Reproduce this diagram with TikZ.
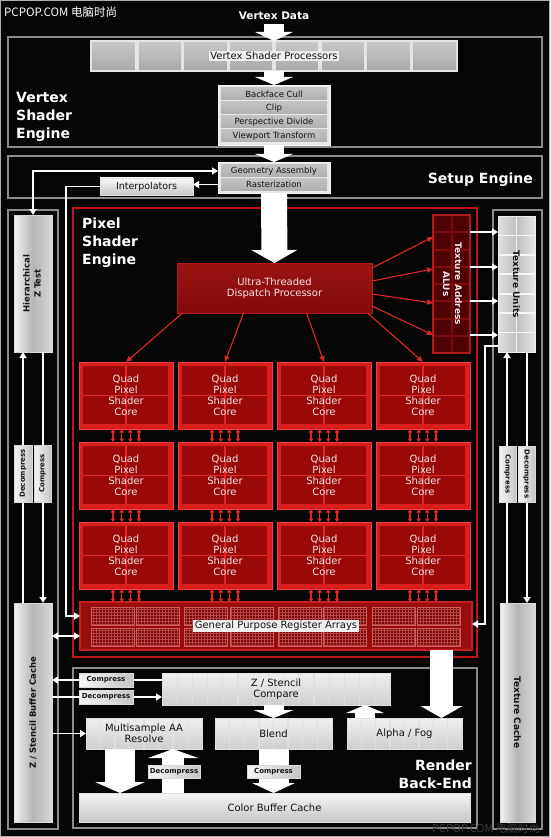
\documentclass[tikz,border=0pt]{standalone}
\usepackage{fontspec}
\setmainfont{DejaVu Sans}
\newfontfamily\cjk{Noto Sans CJK SC}
\usetikzlibrary{arrows.meta,calc,patterns}
\definecolor{bg}{HTML}{060606}
\definecolor{frame}{HTML}{8C8C8C}
\definecolor{pred}{HTML}{C21616}
\definecolor{corered}{HTML}{DA1E1E}
\definecolor{corehi}{HTML}{F04040}
\definecolor{coredark}{HTML}{9A0808}
\definecolor{coreline}{HTML}{DC2A2A}
\definecolor{coretext}{HTML}{F4E6E6}
\definecolor{disphi}{HTML}{9C1414}
\definecolor{displo}{HTML}{820A0A}
\definecolor{alucell}{HTML}{4E0202}
\definecolor{aluline}{HTML}{7E0A0A}
\definecolor{aluedge}{HTML}{B01A1A}
\definecolor{arrred}{HTML}{E02626}
\definecolor{gprfill}{HTML}{980C0C}
\definecolor{gprcell}{HTML}{7A0606}
\definecolor{gprline}{HTML}{D06060}
\definecolor{ink}{HTML}{141414}
\definecolor{wmgray}{HTML}{3A3A3A}
\newcommand\fsz[2]{\fontsize{#1pt}{#2pt}\selectfont}
\newcommand\pxbox[7]{\node[inner sep=0pt,outer sep=0pt,#6,anchor=north west,minimum width={(#4)-(#2)},minimum height={(#5)-(#3)}] (#1) at (#2,#3) {#7};}
\tikzset{
  secframe/.style={draw=frame,line width=1.1pt},
  pseframe/.style={draw=pred,line width=1.6pt},
  head/.style={text=white,font=\bfseries\fsz{14}{18},inner sep=0pt},
  cells/.style n args={3}{path picture={%
    \ifnum#1>0
    \foreach \i [evaluate=\i as \f using \i/(#1+1)] in {1,...,#1}{%
      \draw[#3] ($(path picture bounding box.north west)!\f!(path picture bounding box.north east)$) -- ($(path picture bounding box.south west)!\f!(path picture bounding box.south east)$);}%
    \fi
    \ifnum#2>0
    \foreach \j [evaluate=\j as \g using \j/(#2+1)] in {1,...,#2}{%
      \draw[#3] ($(path picture bounding box.north west)!\g!(path picture bounding box.south west)$) -- ($(path picture bounding box.north east)!\g!(path picture bounding box.south east)$);}%
    \fi}},
  vspbar/.style={top color=gray!42,bottom color=gray!68,draw=gray!20,line width=2.5pt,cells={7}{0}{gray!20,line width=3.5pt}},
  lbl/.style={fill=gray!12,text=ink,font=\fsz{10}{12},inner sep=1.5pt},
  stackframe/.style={fill=gray!18,draw=gray!8,line width=0.8pt},
  rowbox/.style={top color=gray!48,bottom color=gray!62,text=ink,font=\fsz{8.5}{10}},
  lightbox/.style={top color=gray!5,bottom color=gray!45,draw=gray!25,line width=0.6pt,text=ink,font=\fsz{9.5}{11}},
  colbox/.style={left color=gray!10,right color=gray!30,middle color=gray!58,draw=gray!30,line width=0.6pt,text=ink,font=\bfseries\fsz{8.5}{11}},
  tubox/.style={left color=gray!25,right color=gray!20,middle color=gray!50,draw=gray!15,line width=0.8pt,cells={1}{6}{gray!8,line width=1.6pt},text=ink,font=\bfseries\fsz{9}{11}},
  alubox/.style={fill=alucell,draw=aluedge,line width=1.2pt,cells={1}{7}{aluline,line width=2pt},text=coretext,font=\bfseries\fsz{9}{12}},
  dispbox/.style={top color=disphi,bottom color=displo,draw={rgb,255:red,176;green,28;blue,28},line width=0.8pt,text=coretext,align=center,font=\fsz{10}{11.5}},
  core/.style={fill=corered,draw=corehi,line width=0.6pt,text=coretext,align=center,font=\fsz{10}{11},
    path picture={%
      \fill[coredark] ([shift={(4pt,-4pt)}]path picture bounding box.north west) rectangle ([shift={(-5pt,5pt)}]path picture bounding box.south east);
      \draw[coreline,line width=1.4pt] ([yshift=-4pt]path picture bounding box.north) -- ([yshift=5pt]path picture bounding box.south);
      \draw[coreline,line width=1.4pt] ([xshift=4pt]path picture bounding box.west) -- ([xshift=-5pt]path picture bounding box.east);}},
  gprbox/.style={fill=gprfill,draw={rgb,255:red,200;green,30;blue,30},line width=1.2pt},
  gridbox/.style={top color=gray!12,bottom color=gray!38,draw=gray!25,line width=0.6pt,text=ink,font=\fsz{10}{11.5},align=center},
  cbcbox/.style={top color=gray!8,bottom color=gray!45,draw=gray!25,line width=0.6pt,text=ink,font=\fsz{10}{12}},
  tagbox/.style={left color=gray!8,right color=gray!45,draw=gray!30,line width=0.5pt,text=ink,font=\bfseries\fsz{7}{8}},
  warrow/.style={draw=white,line width=1.6pt,-{Triangle[width=7pt,length=6pt]}},
  wboth/.style={draw=white,line width=1.6pt,{Triangle[width=7pt,length=6pt]}-{Triangle[width=7pt,length=6pt]}},
  redarrow/.style={draw=arrred,line width=1.1pt,-{Triangle[width=5pt,length=6pt]}},
  reddbl/.style={draw=arrred,line width=1.5pt,{Triangle[width=4.5pt,length=3.5pt]}-{Triangle[width=4.5pt,length=3.5pt]}},
  blk/.style n args={3}{draw=white,line width=#1,-{Triangle[width=#2,length=#3,line width=0pt]}}
}
\begin{document}
\begin{tikzpicture}[x=1pt,y=-1pt]
\fill[bg] (0,0) rectangle (550,837);
\useasboundingbox (0,0) rectangle (550,837);
\draw[frame!70,line width=0.8pt] (0.6,0.6) rectangle (549.4,836.4);
\node[anchor=west,text=white,font=\cjk\fsz{11.5}{13},inner sep=0pt] (wm) at (4,12) {PCPOP.COM 电脑时尚};

% section frames
\pxbox{vse}{8}{37}{542}{147}{secframe}{}
\pxbox{setup}{8}{156}{542}{198}{secframe}{}
\pxbox{lcol}{8}{210}{58}{829}{secframe}{}
\pxbox{rcol}{493}{210}{542}{829}{secframe}{}
\pxbox{pse}{73}{208}{477}{657}{pseframe}{}
\pxbox{rbe}{73}{668}{477}{828}{secframe}{}

% headings
\node[head,font=\bfseries\fsz{10.5}{12},anchor=base] (vdata) at (274,20) {Vertex Data};
\node[head,align=left,anchor=north west] (vsel) at (16,92.5) {Vertex\\Shader\\Engine};
\node[head,anchor=base east] (setl) at (533,183) {Setup Engine};
\node[head,align=left,anchor=north west] (psel) at (82,217.5) {Pixel\\Shader\\Engine};
\node[head,align=right,anchor=north east] (rbel) at (472,759.5) {Render\\Back-End};

% vertex shader
\pxbox{vsp}{91}{41}{457}{71}{vspbar}{}
\node[lbl] (vspl) at (vsp.center) {Vertex Shader Processors};
\pxbox{stk}{218}{85}{330}{145}{stackframe}{}
\pxbox{bc}{221}{88}{327}{100}{rowbox}{Backface Cull}
\pxbox{clip}{221}{102}{327}{114}{rowbox}{Clip}
\pxbox{pd}{221}{116}{327}{128}{rowbox}{Perspective Divide}
\pxbox{vt}{221}{130}{327}{142}{rowbox}{Viewport Transform}

% setup
\pxbox{gab}{218}{162}{330}{193}{stackframe}{}
\pxbox{geo}{221}{165}{327}{177}{rowbox}{Geometry Assembly}
\pxbox{rast}{221}{179}{327}{190}{rowbox}{Rasterization}
\pxbox{interp}{100}{178}{193}{195}{lightbox}{Interpolators}

% side columns
\pxbox{hz}{14}{215}{52}{352}{colbox}{\rotatebox{90}{\begin{tabular}{@{}c@{}}Hierarchical\\Z Test\end{tabular}}}
\pxbox{zc}{14}{603}{52}{822}{colbox}{\rotatebox{90}{Z / Stencil Buffer Cache}}
\pxbox{tu}{498}{216}{535}{352}{tubox}{\rotatebox{-90}{Texture Units}}
\pxbox{tc}{500}{603}{535}{822}{colbox,font=\bfseries\fsz{9}{11}}{\rotatebox{-90}{Texture Cache}}

% pixel shader engine
\pxbox{alu}{433}{215}{470}{353}{alubox}{\rotatebox{-90}{\begin{tabular}{@{}c@{}}Texture Address\\ALUs\end{tabular}}}
\pxbox{disp}{177}{263}{372}{313}{dispbox}{Ultra-Threaded\\Dispatch Processor}
\foreach \c/\x in {1/79,2/178,3/277,4/376}{%
  \foreach \r/\y in {1/362,2/442,3/522}{%
    \pxbox{c\r\c}{\x}{\y}{\x+94}{\y+67}{core}{Quad\\Pixel\\Shader\\Core}}}
\pxbox{gpr}{80}{602}{472}{650}{gprbox}{}
\foreach \gx in {91,136,184,230,278,323,372,417}{%
  \foreach \gy in {607,628}{%
    \fill[gprcell] (\gx,\gy) rectangle ++(43,18);
    \fill[pattern=grid,pattern color=gprline!70!gprcell] (\gx,\gy) rectangle ++(43,18);
    \draw[gprline,line width=0.7pt] (\gx,\gy) rectangle ++(43,18);}}
\node[lbl] (gprl) at (gpr.center) {General Purpose Register Arrays};

% render back-end
\pxbox{zsc}{162}{673}{390}{705}{gridbox,cells={14}{1}{white!75!gray,line width=1.3pt}}{Z / Stencil\\Compare}
\pxbox{msaa}{86}{718}{202}{749}{gridbox,cells={7}{1}{white!75!gray,line width=1.3pt}}{Multisample AA\\Resolve}
\pxbox{blend}{215}{718}{332}{749}{gridbox,cells={7}{1}{white!75!gray,line width=1.3pt}}{Blend}
\pxbox{af}{347}{718}{462}{749}{gridbox,cells={7}{1}{white!75!gray,line width=1.3pt}}{Alpha / Fog}
\pxbox{cbc}{79}{793}{470}{822}{cbcbox}{Color Buffer Cache}

% block arrows
\draw[blk={20pt}{38pt}{9pt}] ([yshift=-4pt]vdata.south) -- (vsp.north);
\draw[blk={20pt}{38pt}{8pt}] (vsp.south) -- (stk.north);
\draw[blk={20pt}{38pt}{8pt}] (stk.south) -- (gab.north);
\draw[blk={26pt}{46pt}{13pt}] (gab.south) -- (disp.north);
\coordinate (e1) at ([xshift=37pt]af.north);
\draw[blk={23pt}{42pt}{12pt}] (e1 |- gpr.south) -- (e1);
\coordinate (f1) at ([xshift=-39.5pt]af.north);
\draw[blk={20pt}{38pt}{8pt}] (f1) -- (f1 |- zsc.south);
\draw[blk={20pt}{40pt}{8pt}] (blend.north |- zsc.south) -- (blend.north);
\coordinate (h1) at ([xshift=-24pt]msaa.south);
\draw[blk={30pt}{50pt}{11pt}] (h1) -- (h1 |- cbc.north);
\coordinate (i1) at ([xshift=29pt]msaa.south);
\draw[blk={22pt}{50pt}{9pt}] (i1 |- cbc.north) -- (i1);
\draw[blk={30pt}{43pt}{10pt}] (blend.south) -- (blend.south |- cbc.north);

% red arrows
\draw[redarrow] ([xshift=-92pt]disp.south) -- (c11.north);
\draw[redarrow] ([xshift=-31pt]disp.south) -- (c12.north);
\draw[redarrow] ([xshift=32pt]disp.south) -- (c13.north);
\draw[redarrow] ([xshift=93pt]disp.south) -- (c14.north);
\draw[redarrow] ([yshift=20pt]disp.east) -- ([yshift=47pt]alu.west);
\draw[redarrow] ([yshift=7pt]disp.east) -- ([yshift=15pt]alu.west);
\draw[redarrow] ([yshift=-6pt]disp.east) -- ([yshift=-19pt]alu.west);
\draw[redarrow] ([yshift=-18pt]disp.east) -- ([yshift=-51pt]alu.west);
\foreach \c in {1,2,3,4}{%
  \foreach \o in {-13,-4.3,4.3,13}{%
    \draw[reddbl] ([xshift=\o pt]c1\c.south) -- ([xshift=\o pt]c2\c.north);
    \draw[reddbl] ([xshift=\o pt]c2\c.south) -- ([xshift=\o pt]c3\c.north);
    \coordinate (dd) at ([xshift=\o pt]c3\c.south);
    \draw[reddbl] (dd) -- (dd |- gpr.north);}}

% white thin arrows
\coordinate (gw) at (geo.west -| gab.west);
\draw[wboth] (hz.north) |- (gw);
\coordinate (rw) at (rast.west -| gab.west);
\draw[warrow] (rw) -- (rw -| interp.east);
\coordinate (ip) at (66,616);
\draw[warrow] (interp.west) -| (ip) -- (ip -| gpr.west);
\coordinate (zg) at (60,636);
\draw[wboth] (zg -| zc.east) -- (zg -| gpr.west);
\coordinate (tp) at (485,346);
\coordinate (tq) at (485,624);
\draw[warrow] (tp -| tu.west) -- (tp) -- (tq) -- (tq -| gpr.east);
\foreach \s in {52,17,-17,-51}{%
  \coordinate (as) at ([yshift=\s pt]alu.east);
  \draw[warrow] (as) -- (as -| tu.west);}
\coordinate (u1) at ([xshift=-10pt]zc.north);
\draw[warrow] (u1) -- (u1 |- hz.south);
\coordinate (u2) at ([xshift=10pt]hz.south);
\draw[warrow] (u2) -- (u2 |- zc.north);
\coordinate (u3) at ([xshift=-10.5pt]tc.north);
\draw[warrow] (u3) -- (u3 |- tu.south);
\coordinate (u4) at ([xshift=10.5pt]tu.south);
\draw[warrow] (u4) -- (u4 |- tc.north);
\coordinate (k1) at ([yshift=9pt]zsc.west);
\draw[warrow] (k1) -- (k1 -| zc.east);
\coordinate (k2) at ([yshift=-8pt]zsc.west);
\draw[warrow] (k2 -| zc.east) -- (k2);
\draw[warrow] (msaa.west -| zc.east) -- (msaa.west);

% tags
\pxbox{tdl}{14}{445}{32}{502}{tagbox}{\rotatebox{90}{Decompress}}
\pxbox{tcl}{34}{445}{51}{502}{tagbox}{\rotatebox{90}{Compress}}
\pxbox{tcr}{499}{446}{516}{502}{tagbox}{\rotatebox{-90}{Compress}}
\pxbox{tdr}{518}{446}{535}{502}{tagbox}{\rotatebox{-90}{Decompress}}
\pxbox{tc1}{79}{673}{133}{687}{tagbox}{Compress}
\pxbox{td1}{79}{690}{133}{704}{tagbox}{Decompress}
\pxbox{td2}{148}{765}{200}{778}{tagbox}{Decompress}
\pxbox{tc2}{247}{765}{300}{778}{tagbox}{Compress}

\node[font=\cjk\fsz{11}{13},text=wmgray,inner sep=0pt] (wm2) at (486,828) {PCPOP.COM 电脑时尚};
\end{tikzpicture}
\end{document}
